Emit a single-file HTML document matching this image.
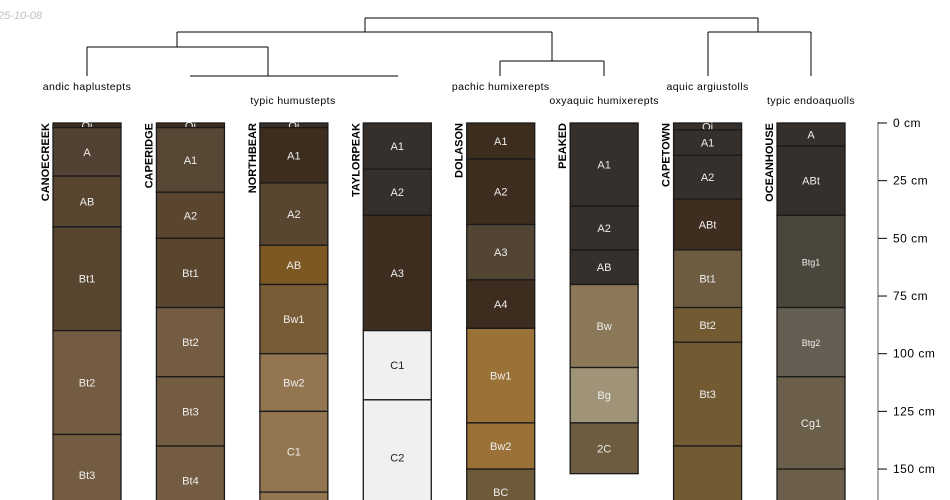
<!DOCTYPE html>
<html><head><meta charset="utf-8"><style>
html,body{margin:0;background:#fff;width:950px;height:500px;overflow:hidden}
svg{display:block;font-family:"Liberation Sans",sans-serif;overflow:hidden}
</style></head><body>
<svg id="chart" width="950" height="500" viewBox="0 0 950 500" xmlns="http://www.w3.org/2000/svg">
<text x="-2" y="19" font-size="11" font-style="italic" fill="#c0c0c0">25-10-08</text>
<g id="dendro" stroke="#000" stroke-width="1" fill="none"></g>
<g id="taxa"></g>
<g id="profiles"></g>
<g id="axis"></g>
</svg>
<script>
const profileNames = ["CANOECREEK","CAPERIDGE","NORTHBEAR","TAYLORPEAK","DOLASON","PEAKED","CAPETOWN","OCEANHOUSE"];
const horizonNames = [
 ["Oi","A","AB","Bt1","Bt2","Bt3"],
 ["Oi","A1","A2","Bt1","Bt2","Bt3","Bt4"],
 ["Oi","A1","A2","AB","Bw1","Bw2","C1",""],
 ["A1","A2","A3","C1","C2"],
 ["A1","A2","A3","A4","Bw1","Bw2","BC"],
 ["A1","A2","AB","Bw","Bg","2C"],
 ["Oi","A1","A2","ABt","Bt1","Bt2","Bt3",""],
 ["A","ABt","Btg1","Btg2","Cg1",""]
];
const horizonDepths = [
 [0,2,23,45,90,135,170],
 [0,2,30,50,80,110,140,170],
 [0,2,26,53,70,100,125,160,175],
 [0,20,40,90,120,170],
 [0,15.6,44,68,89,130,150,170],
 [0,36,55,70,106,130,152],
 [0,3,14,33,55,80,95,140,170],
 [0,10,40,80,110,150,170]
];
const horizonColors = [
 ["#3b2d20","#524233","#574530","#574530","#735c41","#735c41"],
 ["#3b2d20","#574836","#5a462e","#5a462e","#735c41","#735c41","#735c41"],
 ["#3a3028","#3c2d1f","#594630","#7e5822","#785c36","#937650","#937650","#937650"],
 ["#35302b","#35302b","#3d2e20","#f0f0f0","#f0f0f0"],
 ["#3c2d1f","#3c2d1f","#524533","#3c2d1f","#9a7238","#9a7238","#6d5a3a"],
 ["#35302b","#35302b","#35302b","#8a7858","#a09478","#6d5c40"],
 ["#35302b","#35302b","#35302b","#3d2e20","#6d5c40","#725b33","#725b33","#725b33"],
 ["#35302b","#35302b","#4a463c","#655e52","#6b5e4a","#6b5e4a"]
];
const taxonNames = ["andic haplustepts","typic humustepts","pachic humixerepts","oxyaquic humixerepts","aquic argiustolls","typic endoaquolls"];
const taxonPos = [0,2.0,4,5,6,7];
const depthTicks = [0,25,50,75,100,125,150];

const NS="http://www.w3.org/2000/svg";
function mk(tag,attrs,parent){const e=document.createElementNS(NS,tag);for(const k in attrs)e.setAttribute(k,attrs[k]);parent.appendChild(e);return e;}
const y=d=>123+d*2.307;
const yc=d=>Math.min(y(d),501);
const xLeft=i=>53+i*103.43;
const W=68;
const xc=i=>xLeft(i)+W/2;

const prof=document.getElementById('profiles');
profileNames.forEach((nm,i)=>{
  const g=mk('g',{},prof);
  
  
  const d=horizonDepths[i];
  for(let h=0;h<d.length-1;h++){
    const r=mk('rect',{x:xLeft(i),y:yc(d[h]),width:W,height:Math.max(0,yc(d[h+1])-yc(d[h])),fill:horizonColors[i][h],stroke:'#1a1a1a','stroke-width':1.3},g);
    
    
    const lab=horizonNames[i][h];
    if(lab){
      const light=horizonColors[i][h]==="#f0f0f0";
      const small=lab.startsWith('Btg');
      const ty=Math.min((y(d[h])+y(d[h+1]))/2+4,497);
      const t=mk('text',{x:xc(i),y:ty,'text-anchor':'middle','font-size':small?9:11,fill:light?'#222':'#eeeeee'},g);
      t.textContent=lab;
      
      
    }
  }
  const t=mk('text',{x:0,y:0,'text-anchor':'end','font-size':11,'font-weight':'bold',fill:'#000',transform:`translate(${xLeft(i)-4},123) rotate(-90)`},g);
  t.textContent=nm;
  
  
});

const tx=document.getElementById('taxa');
taxonNames.forEach((n,k)=>{
  const cx = k===1 ? 293 : 87+taxonPos[k]*103.43;
  const t=mk('text',{x:cx,y:k%2?104:90,'text-anchor':'middle','font-size':10.5,'letter-spacing':0.4,fill:'#000'},tx);
  t.textContent=n;
  
  
});

const dg=document.getElementById('dendro');
const lines=[[365,18,758,18],[365,18,365,32],[758,18,758,32],
[177,32,552,32],[177,32,177,47],[552,32,552,61],
[87,47,268,47],[87,47,87,76],[268,47,268,76],[190,76,398,76],
[500,61,604,61],[500,61,500,76],[604,61,604,76],
[708,32,811,32],[708,32,708,76],[811,32,811,76]];
lines.forEach(l=>{const e=mk('line',{x1:l[0],y1:l[1],x2:l[2],y2:l[3]},dg);
  
  });

const ax=document.getElementById('axis');
const al=mk('line',{x1:878,y1:122,x2:878,y2:500,stroke:'#808080','stroke-width':1.3},ax);


depthTicks.forEach(v=>{
  const tk=mk('line',{x1:878,y1:y(v),x2:887,y2:y(v),stroke:'#000'},ax);
  
  
  const t=mk('text',{x:893,y:y(v)+4,'font-size':12,'letter-spacing':0.5,fill:'#000'},ax);
  t.textContent=v+' cm';
  
  
});
</script>
</body></html>
